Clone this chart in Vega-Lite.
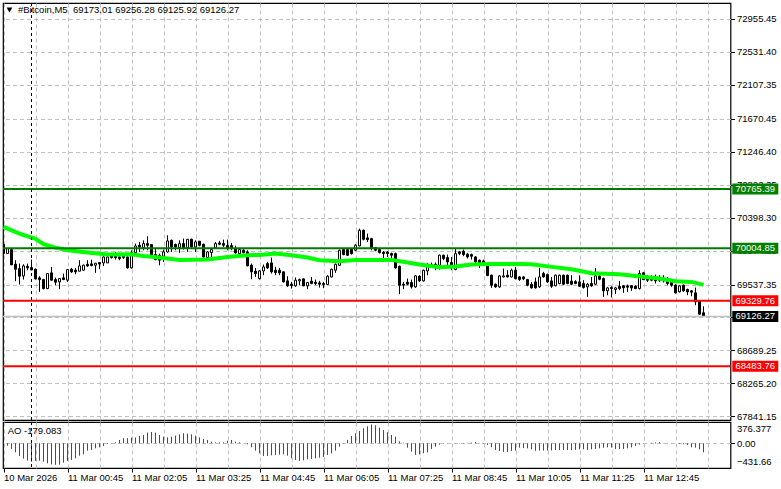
{"$schema":"https://vega.github.io/schema/vega-lite/v6.json","background":"white","padding":{"left":2,"top":2,"right":0,"bottom":0},"spacing":2,"bounds":"flush","config":{"view":{"stroke":"black","strokeWidth":1.2},"axis":{"labelFont":"Liberation Sans","labelFontSize":9.5,"labelColor":"black","tickColor":"black","domain":false,"labelOverlap":false},"text":{"font":"Liberation Sans","fontSize":9.5}},
"datasets":{
"candles":[
{"t":"2026-03-10T23:25Z","o":70055,"h":70055,"l":69935,"c":69935},
{"t":"2026-03-10T23:30Z","o":69935,"h":70000,"l":69935,"c":70000},
{"t":"2026-03-10T23:35Z","o":69987,"h":69987,"l":69790,"c":69790},
{"t":"2026-03-10T23:40Z","o":69798,"h":69850,"l":69580,"c":69734},
{"t":"2026-03-10T23:45Z","o":69742,"h":69807,"l":69537,"c":69644},
{"t":"2026-03-10T23:50Z","o":69648,"h":69798,"l":69601,"c":69777},
{"t":"2026-03-10T23:55Z","o":69772,"h":69807,"l":69721,"c":69751},
{"t":"2026-03-11T00:00Z","o":69755,"h":69858,"l":69721,"c":69725},
{"t":"2026-03-11T00:05Z","o":69734,"h":69742,"l":69601,"c":69610},
{"t":"2026-03-11T00:10Z","o":69623,"h":69644,"l":69443,"c":69601},
{"t":"2026-03-11T00:15Z","o":69601,"h":69610,"l":69473,"c":69485},
{"t":"2026-03-11T00:20Z","o":69485,"h":69678,"l":69477,"c":69678},
{"t":"2026-03-11T00:25Z","o":69687,"h":69764,"l":69584,"c":69593},
{"t":"2026-03-11T00:30Z","o":69601,"h":69627,"l":69528,"c":69567},
{"t":"2026-03-11T00:35Z","o":69571,"h":69618,"l":69477,"c":69614},
{"t":"2026-03-11T00:40Z","o":69623,"h":69678,"l":69593,"c":69601},
{"t":"2026-03-11T00:45Z","o":69593,"h":69730,"l":69571,"c":69730},
{"t":"2026-03-11T00:50Z","o":69734,"h":69751,"l":69687,"c":69700},
{"t":"2026-03-11T00:55Z","o":69721,"h":69751,"l":69670,"c":69700},
{"t":"2026-03-11T01:00Z","o":69708,"h":69850,"l":69708,"c":69777},
{"t":"2026-03-11T01:05Z","o":69721,"h":69794,"l":69717,"c":69785},
{"t":"2026-03-11T01:10Z","o":69798,"h":69850,"l":69764,"c":69777},
{"t":"2026-03-11T01:15Z","o":69802,"h":69858,"l":69772,"c":69781},
{"t":"2026-03-11T01:20Z","o":69785,"h":69815,"l":69687,"c":69811},
{"t":"2026-03-11T01:25Z","o":69820,"h":69824,"l":69734,"c":69802},
{"t":"2026-03-11T01:30Z","o":69815,"h":69901,"l":69777,"c":69892},
{"t":"2026-03-11T01:35Z","o":69815,"h":69901,"l":69815,"c":69892},
{"t":"2026-03-11T01:40Z","o":69905,"h":69944,"l":69871,"c":69884},
{"t":"2026-03-11T01:45Z","o":69901,"h":69957,"l":69858,"c":69884},
{"t":"2026-03-11T01:50Z","o":69892,"h":69944,"l":69850,"c":69871},
{"t":"2026-03-11T01:55Z","o":69884,"h":69918,"l":69867,"c":69901},
{"t":"2026-03-11T02:00Z","o":69892,"h":69901,"l":69742,"c":69751},
{"t":"2026-03-11T02:05Z","o":69751,"h":69978,"l":69742,"c":69952},
{"t":"2026-03-11T02:10Z","o":69948,"h":70064,"l":69935,"c":70034},
{"t":"2026-03-11T02:15Z","o":70042,"h":70085,"l":69957,"c":70021},
{"t":"2026-03-11T02:20Z","o":70012,"h":70106,"l":69978,"c":70064},
{"t":"2026-03-11T02:25Z","o":70064,"h":70158,"l":69978,"c":70042},
{"t":"2026-03-11T02:30Z","o":70051,"h":70051,"l":69892,"c":69914},
{"t":"2026-03-11T02:35Z","o":69922,"h":70000,"l":69850,"c":69858},
{"t":"2026-03-11T02:40Z","o":69914,"h":69935,"l":69785,"c":69850},
{"t":"2026-03-11T02:45Z","o":69901,"h":69987,"l":69828,"c":69957},
{"t":"2026-03-11T02:50Z","o":69957,"h":70171,"l":69948,"c":70098},
{"t":"2026-03-11T02:55Z","o":70106,"h":70115,"l":69957,"c":70021},
{"t":"2026-03-11T03:00Z","o":70051,"h":70064,"l":69978,"c":70021},
{"t":"2026-03-11T03:05Z","o":70012,"h":70106,"l":69944,"c":70064},
{"t":"2026-03-11T03:10Z","o":70064,"h":70128,"l":69987,"c":70012},
{"t":"2026-03-11T03:15Z","o":70012,"h":70124,"l":69957,"c":70119},
{"t":"2026-03-11T03:20Z","o":70119,"h":70128,"l":70012,"c":70021},
{"t":"2026-03-11T03:25Z","o":70021,"h":70106,"l":69957,"c":70085},
{"t":"2026-03-11T03:30Z","o":70094,"h":70098,"l":70029,"c":70042},
{"t":"2026-03-11T03:35Z","o":70055,"h":70064,"l":69884,"c":69892},
{"t":"2026-03-11T03:40Z","o":69884,"h":69969,"l":69875,"c":69957},
{"t":"2026-03-11T03:45Z","o":69948,"h":70000,"l":69892,"c":69987},
{"t":"2026-03-11T03:50Z","o":70012,"h":70085,"l":70000,"c":70064},
{"t":"2026-03-11T03:55Z","o":70072,"h":70098,"l":70042,"c":70055},
{"t":"2026-03-11T04:00Z","o":70064,"h":70115,"l":70021,"c":70042},
{"t":"2026-03-11T04:05Z","o":70038,"h":70115,"l":69978,"c":70012},
{"t":"2026-03-11T04:10Z","o":70038,"h":70072,"l":69978,"c":70000},
{"t":"2026-03-11T04:15Z","o":70000,"h":70038,"l":69935,"c":69944},
{"t":"2026-03-11T04:20Z","o":69935,"h":70000,"l":69922,"c":69987},
{"t":"2026-03-11T04:25Z","o":69978,"h":69991,"l":69935,"c":69948},
{"t":"2026-03-11T04:30Z","o":69957,"h":69978,"l":69772,"c":69777},
{"t":"2026-03-11T04:35Z","o":69785,"h":69807,"l":69605,"c":69700},
{"t":"2026-03-11T04:40Z","o":69708,"h":69751,"l":69635,"c":69678},
{"t":"2026-03-11T04:45Z","o":69614,"h":69721,"l":69601,"c":69712},
{"t":"2026-03-11T04:50Z","o":69712,"h":69794,"l":69657,"c":69764},
{"t":"2026-03-11T04:55Z","o":69807,"h":69828,"l":69738,"c":69751},
{"t":"2026-03-11T05:00Z","o":69815,"h":69884,"l":69678,"c":69700},
{"t":"2026-03-11T05:05Z","o":69721,"h":69764,"l":69657,"c":69691},
{"t":"2026-03-11T05:10Z","o":69721,"h":69751,"l":69657,"c":69687},
{"t":"2026-03-11T05:15Z","o":69700,"h":69708,"l":69563,"c":69571},
{"t":"2026-03-11T05:20Z","o":69584,"h":69644,"l":69507,"c":69520},
{"t":"2026-03-11T05:25Z","o":69541,"h":69571,"l":69485,"c":69524},
{"t":"2026-03-11T05:30Z","o":69520,"h":69627,"l":69507,"c":69593},
{"t":"2026-03-11T05:35Z","o":69584,"h":69614,"l":69528,"c":69601},
{"t":"2026-03-11T05:40Z","o":69610,"h":69614,"l":69515,"c":69520},
{"t":"2026-03-11T05:45Z","o":69520,"h":69571,"l":69477,"c":69563},
{"t":"2026-03-11T05:50Z","o":69580,"h":69635,"l":69541,"c":69550},
{"t":"2026-03-11T05:55Z","o":69567,"h":69601,"l":69528,"c":69550},
{"t":"2026-03-11T06:00Z","o":69558,"h":69584,"l":69498,"c":69541},
{"t":"2026-03-11T06:05Z","o":69550,"h":69571,"l":69490,"c":69537},
{"t":"2026-03-11T06:10Z","o":69537,"h":69657,"l":69528,"c":69644},
{"t":"2026-03-11T06:15Z","o":69635,"h":69742,"l":69627,"c":69734},
{"t":"2026-03-11T06:20Z","o":69721,"h":69807,"l":69687,"c":69798},
{"t":"2026-03-11T06:25Z","o":69785,"h":69987,"l":69777,"c":69978},
{"t":"2026-03-11T06:30Z","o":69987,"h":70000,"l":69914,"c":69922},
{"t":"2026-03-11T06:35Z","o":69987,"h":70000,"l":69905,"c":69914},
{"t":"2026-03-11T06:40Z","o":69991,"h":70000,"l":69922,"c":69935},
{"t":"2026-03-11T06:45Z","o":69978,"h":70055,"l":69965,"c":70042},
{"t":"2026-03-11T06:50Z","o":70034,"h":70256,"l":70029,"c":70235},
{"t":"2026-03-11T06:55Z","o":70235,"h":70244,"l":70106,"c":70119},
{"t":"2026-03-11T07:00Z","o":70137,"h":70192,"l":70085,"c":70115},
{"t":"2026-03-11T07:05Z","o":70128,"h":70137,"l":69978,"c":70000},
{"t":"2026-03-11T07:10Z","o":70012,"h":70021,"l":69965,"c":69978},
{"t":"2026-03-11T07:15Z","o":69987,"h":70000,"l":69935,"c":69948},
{"t":"2026-03-11T07:20Z","o":69952,"h":69969,"l":69871,"c":69935},
{"t":"2026-03-11T07:25Z","o":69952,"h":69969,"l":69892,"c":69935},
{"t":"2026-03-11T07:30Z","o":69935,"h":69948,"l":69871,"c":69914},
{"t":"2026-03-11T07:35Z","o":69935,"h":69948,"l":69742,"c":69751},
{"t":"2026-03-11T07:40Z","o":69772,"h":69781,"l":69413,"c":69528},
{"t":"2026-03-11T07:45Z","o":69541,"h":69571,"l":69477,"c":69528},
{"t":"2026-03-11T07:50Z","o":69567,"h":69614,"l":69528,"c":69541},
{"t":"2026-03-11T07:55Z","o":69563,"h":69601,"l":69485,"c":69507},
{"t":"2026-03-11T08:00Z","o":69507,"h":69657,"l":69494,"c":69648},
{"t":"2026-03-11T08:05Z","o":69644,"h":69657,"l":69571,"c":69584},
{"t":"2026-03-11T08:10Z","o":69584,"h":69730,"l":69575,"c":69721},
{"t":"2026-03-11T08:15Z","o":69712,"h":69815,"l":69657,"c":69785},
{"t":"2026-03-11T08:20Z","o":69777,"h":69820,"l":69764,"c":69794},
{"t":"2026-03-11T08:25Z","o":69798,"h":69820,"l":69721,"c":69772},
{"t":"2026-03-11T08:30Z","o":69785,"h":69922,"l":69730,"c":69914},
{"t":"2026-03-11T08:35Z","o":69914,"h":69922,"l":69850,"c":69871},
{"t":"2026-03-11T08:40Z","o":69884,"h":69922,"l":69764,"c":69828},
{"t":"2026-03-11T08:45Z","o":69820,"h":69892,"l":69721,"c":69785},
{"t":"2026-03-11T08:50Z","o":69730,"h":70000,"l":69721,"c":69935},
{"t":"2026-03-11T08:55Z","o":69957,"h":69969,"l":69914,"c":69935},
{"t":"2026-03-11T09:00Z","o":69965,"h":69987,"l":69901,"c":69922},
{"t":"2026-03-11T09:05Z","o":69927,"h":69944,"l":69871,"c":69892},
{"t":"2026-03-11T09:10Z","o":69922,"h":69935,"l":69858,"c":69901},
{"t":"2026-03-11T09:15Z","o":69892,"h":69901,"l":69815,"c":69828},
{"t":"2026-03-11T09:20Z","o":69850,"h":69858,"l":69751,"c":69815},
{"t":"2026-03-11T09:25Z","o":69841,"h":69858,"l":69807,"c":69820},
{"t":"2026-03-11T09:30Z","o":69777,"h":69785,"l":69644,"c":69653},
{"t":"2026-03-11T09:35Z","o":69657,"h":69665,"l":69494,"c":69528},
{"t":"2026-03-11T09:40Z","o":69541,"h":69550,"l":69494,"c":69507},
{"t":"2026-03-11T09:45Z","o":69507,"h":69657,"l":69494,"c":69648},
{"t":"2026-03-11T09:50Z","o":69635,"h":69742,"l":69627,"c":69648},
{"t":"2026-03-11T09:55Z","o":69657,"h":69721,"l":69627,"c":69635},
{"t":"2026-03-11T10:00Z","o":69635,"h":69742,"l":69627,"c":69721},
{"t":"2026-03-11T10:05Z","o":69721,"h":69764,"l":69601,"c":69614},
{"t":"2026-03-11T10:10Z","o":69635,"h":69644,"l":69584,"c":69601},
{"t":"2026-03-11T10:15Z","o":69635,"h":69644,"l":69593,"c":69610},
{"t":"2026-03-11T10:20Z","o":69601,"h":69610,"l":69515,"c":69528},
{"t":"2026-03-11T10:25Z","o":69541,"h":69571,"l":69485,"c":69494},
{"t":"2026-03-11T10:30Z","o":69571,"h":69627,"l":69485,"c":69494},
{"t":"2026-03-11T10:35Z","o":69507,"h":69751,"l":69494,"c":69635},
{"t":"2026-03-11T10:40Z","o":69678,"h":69700,"l":69627,"c":69635},
{"t":"2026-03-11T10:45Z","o":69665,"h":69678,"l":69558,"c":69571},
{"t":"2026-03-11T10:50Z","o":69584,"h":69635,"l":69494,"c":69515},
{"t":"2026-03-11T10:55Z","o":69520,"h":69665,"l":69515,"c":69657},
{"t":"2026-03-11T11:00Z","o":69550,"h":69665,"l":69541,"c":69657},
{"t":"2026-03-11T11:05Z","o":69657,"h":69665,"l":69528,"c":69541},
{"t":"2026-03-11T11:10Z","o":69657,"h":69665,"l":69541,"c":69550},
{"t":"2026-03-11T11:15Z","o":69580,"h":69657,"l":69528,"c":69541},
{"t":"2026-03-11T11:20Z","o":69575,"h":69593,"l":69541,"c":69550},
{"t":"2026-03-11T11:25Z","o":69571,"h":69657,"l":69507,"c":69515},
{"t":"2026-03-11T11:30Z","o":69550,"h":69593,"l":69485,"c":69498},
{"t":"2026-03-11T11:35Z","o":69507,"h":69558,"l":69378,"c":69541},
{"t":"2026-03-11T11:40Z","o":69550,"h":69635,"l":69507,"c":69520},
{"t":"2026-03-11T11:45Z","o":69541,"h":69751,"l":69533,"c":69648},
{"t":"2026-03-11T11:50Z","o":69644,"h":69657,"l":69593,"c":69605},
{"t":"2026-03-11T11:55Z","o":69614,"h":69627,"l":69378,"c":69456},
{"t":"2026-03-11T12:00Z","o":69456,"h":69507,"l":69400,"c":69494},
{"t":"2026-03-11T12:05Z","o":69498,"h":69515,"l":69370,"c":69485},
{"t":"2026-03-11T12:10Z","o":69473,"h":69507,"l":69413,"c":69494},
{"t":"2026-03-11T12:15Z","o":69515,"h":69584,"l":69464,"c":69485},
{"t":"2026-03-11T12:20Z","o":69520,"h":69528,"l":69430,"c":69494},
{"t":"2026-03-11T12:25Z","o":69520,"h":69537,"l":69443,"c":69503},
{"t":"2026-03-11T12:30Z","o":69520,"h":69528,"l":69456,"c":69494},
{"t":"2026-03-11T12:35Z","o":69515,"h":69528,"l":69477,"c":69485},
{"t":"2026-03-11T12:40Z","o":69485,"h":69721,"l":69473,"c":69678},
{"t":"2026-03-11T12:45Z","o":69687,"h":69700,"l":69593,"c":69601},
{"t":"2026-03-11T12:50Z","o":69610,"h":69657,"l":69571,"c":69593},
{"t":"2026-03-11T12:55Z","o":69610,"h":69657,"l":69580,"c":69593},
{"t":"2026-03-11T13:00Z","o":69601,"h":69665,"l":69550,"c":69584},
{"t":"2026-03-11T13:05Z","o":69614,"h":69657,"l":69571,"c":69593},
{"t":"2026-03-11T13:10Z","o":69601,"h":69657,"l":69563,"c":69584},
{"t":"2026-03-11T13:15Z","o":69593,"h":69635,"l":69528,"c":69550},
{"t":"2026-03-11T13:20Z","o":69563,"h":69601,"l":69507,"c":69528},
{"t":"2026-03-11T13:25Z","o":69528,"h":69541,"l":69421,"c":69430},
{"t":"2026-03-11T13:30Z","o":69443,"h":69528,"l":69434,"c":69520},
{"t":"2026-03-11T13:35Z","o":69528,"h":69537,"l":69443,"c":69456},
{"t":"2026-03-11T13:40Z","o":69473,"h":69485,"l":69400,"c":69443},
{"t":"2026-03-11T13:45Z","o":69456,"h":69464,"l":69387,"c":69438},
{"t":"2026-03-11T13:50Z","o":69430,"h":69498,"l":69271,"c":69314},
{"t":"2026-03-11T13:55Z","o":69323,"h":69331,"l":69143,"c":69156},
{"t":"2026-03-11T14:00Z","o":69173.01,"h":69256.28,"l":69125.92,"c":69126.27}
],
"ma":[
{"t":"2026-03-10T23:25Z","v":70278},{"t":"2026-03-10T23:45Z","v":70192},{"t":"2026-03-11T00:05Z","v":70124},{"t":"2026-03-11T00:15Z","v":70055},{"t":"2026-03-11T00:30Z","v":70012},{"t":"2026-03-11T00:45Z","v":69978},{"t":"2026-03-11T01:10Z","v":69948},{"t":"2026-03-11T01:35Z","v":69922},{"t":"2026-03-11T02:05Z","v":69927},{"t":"2026-03-11T02:20Z","v":69905},{"t":"2026-03-11T02:40Z","v":69884},{"t":"2026-03-11T03:05Z","v":69854},{"t":"2026-03-11T03:40Z","v":69858},{"t":"2026-03-11T04:05Z","v":69892},{"t":"2026-03-11T04:30Z","v":69914},{"t":"2026-03-11T04:45Z","v":69918},{"t":"2026-03-11T05:05Z","v":69935},{"t":"2026-03-11T05:25Z","v":69914},{"t":"2026-03-11T05:45Z","v":69884},{"t":"2026-03-11T06:00Z","v":69850},{"t":"2026-03-11T06:25Z","v":69837},{"t":"2026-03-11T06:45Z","v":69854},{"t":"2026-03-11T07:30Z","v":69854},{"t":"2026-03-11T07:50Z","v":69820},{"t":"2026-03-11T08:05Z","v":69794},{"t":"2026-03-11T08:30Z","v":69760},{"t":"2026-03-11T08:50Z","v":69768},{"t":"2026-03-11T09:10Z","v":69794},{"t":"2026-03-11T09:35Z","v":69802},{"t":"2026-03-11T10:10Z","v":69802},{"t":"2026-03-11T10:25Z","v":69798},{"t":"2026-03-11T10:50Z","v":69764},{"t":"2026-03-11T11:15Z","v":69734},{"t":"2026-03-11T11:40Z","v":69682},{"t":"2026-03-11T12:15Z","v":69670},{"t":"2026-03-11T12:35Z","v":69648},{"t":"2026-03-11T13:05Z","v":69614},{"t":"2026-03-11T13:25Z","v":69580},{"t":"2026-03-11T13:45Z","v":69571},{"t":"2026-03-11T14:00Z","v":69533}
],
"levels":[{"price":70765.39,"kind":"buy"},{"price":70004.85,"kind":"buy"},{"price":69329.76,"kind":"sell"},{"price":68483.76,"kind":"sell"},{"price":69126.27,"kind":"last"}],
"ao":[
{"t":"2026-03-10T23:25Z","ao":-7,"dir":"down"},{"t":"2026-03-10T23:30Z","ao":-47,"dir":"down"},{"t":"2026-03-10T23:35Z","ao":-113,"dir":"down"},{"t":"2026-03-10T23:40Z","ao":-180,"dir":"down"},{"t":"2026-03-10T23:45Z","ao":-253,"dir":"down"},{"t":"2026-03-10T23:50Z","ao":-307,"dir":"down"},{"t":"2026-03-10T23:55Z","ao":-347,"dir":"down"},{"t":"2026-03-11T00:00Z","ao":-367,"dir":"down"},{"t":"2026-03-11T00:05Z","ao":-353,"dir":"up"},{"t":"2026-03-11T00:10Z","ao":-347,"dir":"up"},{"t":"2026-03-11T00:15Z","ao":-367,"dir":"down"},{"t":"2026-03-11T00:20Z","ao":-400,"dir":"down"},{"t":"2026-03-11T00:25Z","ao":-420,"dir":"down"},{"t":"2026-03-11T00:30Z","ao":-431,"dir":"down"},{"t":"2026-03-11T00:35Z","ao":-428,"dir":"up"},{"t":"2026-03-11T00:40Z","ao":-387,"dir":"up"},{"t":"2026-03-11T00:45Z","ao":-353,"dir":"up"},{"t":"2026-03-11T00:50Z","ao":-333,"dir":"up"},{"t":"2026-03-11T00:55Z","ao":-300,"dir":"up"},{"t":"2026-03-11T01:00Z","ao":-247,"dir":"up"},{"t":"2026-03-11T01:05Z","ao":-220,"dir":"up"},{"t":"2026-03-11T01:10Z","ao":-147,"dir":"up"},{"t":"2026-03-11T01:15Z","ao":-133,"dir":"up"},{"t":"2026-03-11T01:20Z","ao":-100,"dir":"up"},{"t":"2026-03-11T01:25Z","ao":-80,"dir":"up"},{"t":"2026-03-11T01:30Z","ao":-53,"dir":"up"},{"t":"2026-03-11T01:35Z","ao":-13,"dir":"up"},{"t":"2026-03-11T01:40Z","ao":5,"dir":"up"},{"t":"2026-03-11T01:45Z","ao":20,"dir":"up"},{"t":"2026-03-11T01:50Z","ao":67,"dir":"up"},{"t":"2026-03-11T01:55Z","ao":100,"dir":"up"},{"t":"2026-03-11T02:00Z","ao":103,"dir":"up"},{"t":"2026-03-11T02:05Z","ao":113,"dir":"up"},{"t":"2026-03-11T02:10Z","ao":115,"dir":"up"},{"t":"2026-03-11T02:15Z","ao":147,"dir":"up"},{"t":"2026-03-11T02:20Z","ao":167,"dir":"up"},{"t":"2026-03-11T02:25Z","ao":213,"dir":"up"},{"t":"2026-03-11T02:30Z","ao":227,"dir":"up"},{"t":"2026-03-11T02:35Z","ao":213,"dir":"down"},{"t":"2026-03-11T02:40Z","ao":167,"dir":"down"},{"t":"2026-03-11T02:45Z","ao":133,"dir":"down"},{"t":"2026-03-11T02:50Z","ao":120,"dir":"down"},{"t":"2026-03-11T02:55Z","ao":133,"dir":"up"},{"t":"2026-03-11T03:00Z","ao":153,"dir":"up"},{"t":"2026-03-11T03:05Z","ao":180,"dir":"up"},{"t":"2026-03-11T03:10Z","ao":200,"dir":"up"},{"t":"2026-03-11T03:15Z","ao":193,"dir":"down"},{"t":"2026-03-11T03:20Z","ao":180,"dir":"down"},{"t":"2026-03-11T03:25Z","ao":153,"dir":"down"},{"t":"2026-03-11T03:30Z","ao":120,"dir":"down"},{"t":"2026-03-11T03:35Z","ao":87,"dir":"down"},{"t":"2026-03-11T03:40Z","ao":67,"dir":"down"},{"t":"2026-03-11T03:45Z","ao":33,"dir":"down"},{"t":"2026-03-11T03:50Z","ao":20,"dir":"down"},{"t":"2026-03-11T03:55Z","ao":18,"dir":"down"},{"t":"2026-03-11T04:00Z","ao":17,"dir":"down"},{"t":"2026-03-11T04:05Z","ao":53,"dir":"up"},{"t":"2026-03-11T04:10Z","ao":67,"dir":"up"},{"t":"2026-03-11T04:15Z","ao":33,"dir":"down"},{"t":"2026-03-11T04:20Z","ao":20,"dir":"down"},{"t":"2026-03-11T04:25Z","ao":3,"dir":"down"},{"t":"2026-03-11T04:30Z","ao":-20,"dir":"down"},{"t":"2026-03-11T04:35Z","ao":-80,"dir":"down"},{"t":"2026-03-11T04:40Z","ao":-147,"dir":"down"},{"t":"2026-03-11T04:45Z","ao":-200,"dir":"down"},{"t":"2026-03-11T04:50Z","ao":-253,"dir":"down"},{"t":"2026-03-11T04:55Z","ao":-255,"dir":"down"},{"t":"2026-03-11T05:00Z","ao":-240,"dir":"up"},{"t":"2026-03-11T05:05Z","ao":-233,"dir":"up"},{"t":"2026-03-11T05:10Z","ao":-227,"dir":"up"},{"t":"2026-03-11T05:15Z","ao":-220,"dir":"up"},{"t":"2026-03-11T05:20Z","ao":-247,"dir":"down"},{"t":"2026-03-11T05:25Z","ao":-300,"dir":"down"},{"t":"2026-03-11T05:30Z","ao":-333,"dir":"down"},{"t":"2026-03-11T05:35Z","ao":-353,"dir":"down"},{"t":"2026-03-11T05:40Z","ao":-340,"dir":"up"},{"t":"2026-03-11T05:45Z","ao":-320,"dir":"up"},{"t":"2026-03-11T05:50Z","ao":-313,"dir":"up"},{"t":"2026-03-11T05:55Z","ao":-300,"dir":"up"},{"t":"2026-03-11T06:00Z","ao":-287,"dir":"up"},{"t":"2026-03-11T06:05Z","ao":-273,"dir":"up"},{"t":"2026-03-11T06:10Z","ao":-233,"dir":"up"},{"t":"2026-03-11T06:15Z","ao":-200,"dir":"up"},{"t":"2026-03-11T06:20Z","ao":-147,"dir":"up"},{"t":"2026-03-11T06:25Z","ao":-67,"dir":"up"},{"t":"2026-03-11T06:30Z","ao":-5,"dir":"up"},{"t":"2026-03-11T06:35Z","ao":67,"dir":"up"},{"t":"2026-03-11T06:40Z","ao":147,"dir":"up"},{"t":"2026-03-11T06:45Z","ao":200,"dir":"up"},{"t":"2026-03-11T06:50Z","ao":247,"dir":"up"},{"t":"2026-03-11T06:55Z","ao":300,"dir":"up"},{"t":"2026-03-11T07:00Z","ao":340,"dir":"up"},{"t":"2026-03-11T07:05Z","ao":376.377,"dir":"up"},{"t":"2026-03-11T07:10Z","ao":360,"dir":"down"},{"t":"2026-03-11T07:15Z","ao":313,"dir":"down"},{"t":"2026-03-11T07:20Z","ao":267,"dir":"down"},{"t":"2026-03-11T07:25Z","ao":220,"dir":"down"},{"t":"2026-03-11T07:30Z","ao":167,"dir":"down"},{"t":"2026-03-11T07:35Z","ao":133,"dir":"down"},{"t":"2026-03-11T07:40Z","ao":40,"dir":"down"},{"t":"2026-03-11T07:45Z","ao":13,"dir":"down"},{"t":"2026-03-11T07:50Z","ao":-87,"dir":"down"},{"t":"2026-03-11T07:55Z","ao":-167,"dir":"down"},{"t":"2026-03-11T08:00Z","ao":-233,"dir":"down"},{"t":"2026-03-11T08:05Z","ao":-220,"dir":"up"},{"t":"2026-03-11T08:10Z","ao":-200,"dir":"up"},{"t":"2026-03-11T08:15Z","ao":-180,"dir":"up"},{"t":"2026-03-11T08:20Z","ao":-113,"dir":"up"},{"t":"2026-03-11T08:25Z","ao":-67,"dir":"up"},{"t":"2026-03-11T08:30Z","ao":-27,"dir":"up"},{"t":"2026-03-11T08:35Z","ao":-5,"dir":"up"},{"t":"2026-03-11T08:40Z","ao":-3,"dir":"up"},{"t":"2026-03-11T08:45Z","ao":-2,"dir":"up"},{"t":"2026-03-11T08:50Z","ao":5,"dir":"up"},{"t":"2026-03-11T08:55Z","ao":7,"dir":"up"},{"t":"2026-03-11T09:00Z","ao":8,"dir":"up"},{"t":"2026-03-11T09:05Z","ao":6,"dir":"down"},{"t":"2026-03-11T09:10Z","ao":13,"dir":"up"},{"t":"2026-03-11T09:15Z","ao":27,"dir":"up"},{"t":"2026-03-11T09:20Z","ao":5,"dir":"down"},{"t":"2026-03-11T09:25Z","ao":-7,"dir":"down"},{"t":"2026-03-11T09:30Z","ao":-33,"dir":"down"},{"t":"2026-03-11T09:35Z","ao":-80,"dir":"down"},{"t":"2026-03-11T09:40Z","ao":-133,"dir":"down"},{"t":"2026-03-11T09:45Z","ao":-153,"dir":"down"},{"t":"2026-03-11T09:50Z","ao":-173,"dir":"down"},{"t":"2026-03-11T09:55Z","ao":-175,"dir":"down"},{"t":"2026-03-11T10:00Z","ao":-153,"dir":"up"},{"t":"2026-03-11T10:05Z","ao":-147,"dir":"up"},{"t":"2026-03-11T10:10Z","ao":-87,"dir":"up"},{"t":"2026-03-11T10:15Z","ao":-95,"dir":"down"},{"t":"2026-03-11T10:20Z","ao":-100,"dir":"down"},{"t":"2026-03-11T10:25Z","ao":-120,"dir":"down"},{"t":"2026-03-11T10:30Z","ao":-150,"dir":"down"},{"t":"2026-03-11T10:35Z","ao":-147,"dir":"up"},{"t":"2026-03-11T10:40Z","ao":-145,"dir":"up"},{"t":"2026-03-11T10:45Z","ao":-145,"dir":"up"},{"t":"2026-03-11T10:50Z","ao":-140,"dir":"up"},{"t":"2026-03-11T10:55Z","ao":-133,"dir":"up"},{"t":"2026-03-11T11:00Z","ao":-134,"dir":"down"},{"t":"2026-03-11T11:05Z","ao":-135,"dir":"down"},{"t":"2026-03-11T11:10Z","ao":-136,"dir":"down"},{"t":"2026-03-11T11:15Z","ao":-137,"dir":"down"},{"t":"2026-03-11T11:20Z","ao":-130,"dir":"up"},{"t":"2026-03-11T11:25Z","ao":-120,"dir":"up"},{"t":"2026-03-11T11:30Z","ao":-120,"dir":"up"},{"t":"2026-03-11T11:35Z","ao":-133,"dir":"down"},{"t":"2026-03-11T11:40Z","ao":-120,"dir":"up"},{"t":"2026-03-11T11:45Z","ao":-113,"dir":"up"},{"t":"2026-03-11T11:50Z","ao":-100,"dir":"up"},{"t":"2026-03-11T11:55Z","ao":-87,"dir":"up"},{"t":"2026-03-11T12:00Z","ao":-80,"dir":"up"},{"t":"2026-03-11T12:05Z","ao":-87,"dir":"down"},{"t":"2026-03-11T12:10Z","ao":-113,"dir":"down"},{"t":"2026-03-11T12:15Z","ao":-115,"dir":"down"},{"t":"2026-03-11T12:20Z","ao":-113,"dir":"up"},{"t":"2026-03-11T12:25Z","ao":-100,"dir":"up"},{"t":"2026-03-11T12:30Z","ao":-80,"dir":"up"},{"t":"2026-03-11T12:35Z","ao":-53,"dir":"up"},{"t":"2026-03-11T12:40Z","ao":-27,"dir":"up"},{"t":"2026-03-11T12:45Z","ao":-5,"dir":"up"},{"t":"2026-03-11T12:50Z","ao":-3,"dir":"up"},{"t":"2026-03-11T12:55Z","ao":7,"dir":"up"},{"t":"2026-03-11T13:00Z","ao":20,"dir":"up"},{"t":"2026-03-11T13:05Z","ao":23,"dir":"down"},{"t":"2026-03-11T13:10Z","ao":8,"dir":"down"},{"t":"2026-03-11T13:15Z","ao":3,"dir":"down"},{"t":"2026-03-11T13:20Z","ao":2,"dir":"down"},{"t":"2026-03-11T13:25Z","ao":-1,"dir":"down"},{"t":"2026-03-11T13:30Z","ao":-13,"dir":"down"},{"t":"2026-03-11T13:35Z","ao":-20,"dir":"down"},{"t":"2026-03-11T13:40Z","ao":-33,"dir":"down"},{"t":"2026-03-11T13:45Z","ao":-80,"dir":"down"},{"t":"2026-03-11T13:50Z","ao":-87,"dir":"down"},{"t":"2026-03-11T13:55Z","ao":-120,"dir":"down"},{"t":"2026-03-11T14:00Z","ao":-179.083,"dir":"down"}
]
},
"vconcat":[
{"width":727.5,"height":417,"layer":[
{"data":{"name":"candles"},"mark":{"type":"rule","color":"black","strokeWidth":1,"clip":true},"encoding":{
"x":{"field":"t","type":"temporal","title":null,"scale":{"type":"utc","domain":[1773185062500,1773239625000],"padding":0},"axis":{"tickCount":100,"values":[1773185100000,1773187500000,1773189900000,1773192300000,1773194700000,1773197100000,1773199500000,1773201900000,1773204300000,1773206700000,1773209100000,1773211500000,1773213900000,1773216300000,1773218700000,1773221100000,1773223500000,1773225900000,1773228300000,1773230700000,1773233100000,1773235500000,1773237900000],"grid":true,"gridColor":"#c0c0c0","gridDash":[4,3],"labels":false,"ticks":false}},
"y":{"field":"l","type":"quantitative","title":null,"scale":{"domain":[67793.5,73160.2],"nice":false,"zero":false},"axis":{"tickCount":100,"orient":"right","values":[72955.45,72531.40,72107.35,71670.45,71246.40,70822.35,70398.30,69974.25,69537.35,69113.30,68689.25,68265.20,67841.15],"format":".2f","grid":true,"gridColor":"#c0c0c0","gridDash":[4,3],"tickSize":4,"labelPadding":2,"labelOverlap":false,"labelBound":false}},
"y2":{"field":"h"}}},
{"data":{"name":"candles"},"mark":{"type":"bar","size":2,"stroke":"black","strokeWidth":1,"clip":true},"encoding":{
"x":{"field":"t","type":"temporal","title":null,"scale":{"type":"utc","domain":[1773185062500,1773239625000],"padding":0}},
"y":{"field":"o","type":"quantitative","title":null,"scale":{"domain":[67793.5,73160.2],"nice":false,"zero":false}},
"y2":{"field":"c"},
"fill":{"condition":{"test":"datum.c>datum.o","value":"white"},"value":"black"}}},
{"data":{"name":"ma"},"mark":{"type":"line","color":"#00ff00","strokeWidth":4,"clip":true},"encoding":{
"x":{"field":"t","type":"temporal","title":null,"scale":{"type":"utc","domain":[1773185062500,1773239625000],"padding":0}},
"y":{"field":"v","type":"quantitative","title":null,"scale":{"domain":[67793.5,73160.2],"nice":false,"zero":false}}}},
{"data":{"name":"levels"},"mark":{"type":"rule","clip":true},"encoding":{
"y":{"field":"price","type":"quantitative","title":null,"scale":{"domain":[67793.5,73160.2],"nice":false,"zero":false}},
"stroke":{"field":"kind","type":"nominal","scale":{"domain":["buy","sell","last"],"range":["#007a00","#ff0000","#c0c0c0"]},"legend":null},
"strokeWidth":{"condition":{"test":"datum.kind=='last'","value":1.5},"value":2}}},
{"data":{"name":"levels"},"mark":{"type":"rect","width":46,"height":11},"encoding":{
"x":{"datum":1773241485000,"type":"temporal","title":null,"scale":{"type":"utc","domain":[1773185062500,1773239625000],"padding":0}},
"y":{"field":"price","type":"quantitative","title":null,"scale":{"domain":[67793.5,73160.2],"nice":false,"zero":false}},
"fill":{"field":"kind","type":"nominal","scale":{"domain":["buy","sell","last"],"range":["#008000","#ff0000","#000000"]},"legend":null}}},
{"data":{"name":"levels"},"mark":{"type":"text","color":"white","align":"center","baseline":"middle"},"encoding":{
"x":{"datum":1773241485000,"type":"temporal","title":null,"scale":{"type":"utc","domain":[1773185062500,1773239625000],"padding":0}},
"y":{"field":"price","type":"quantitative","title":null,"scale":{"domain":[67793.5,73160.2],"nice":false,"zero":false}},
"text":{"field":"price","type":"quantitative","format":".2f"}}},
{"data":{"values":[{"label":"#Bitcoin,M5\u00a0\u00a069173.01 69256.28 69125.92 69126.27"}]},"mark":{"type":"text","color":"black","align":"left","baseline":"middle"},"encoding":{
"x":{"datum":1773186187500,"type":"temporal","title":null,"scale":{"type":"utc","domain":[1773185062500,1773239625000],"padding":0}},
"y":{"datum":73070,"type":"quantitative","title":null,"scale":{"domain":[67793.5,73160.2],"nice":false,"zero":false}},
"text":{"field":"label"}}},
{"data":{"values":[{"symbol":"menu"}]},"mark":{"type":"point","shape":"triangle-down","filled":true,"color":"black","size":32,"opacity":1},"encoding":{
"x":{"datum":1773185550000,"type":"temporal","title":null,"scale":{"type":"utc","domain":[1773185062500,1773239625000],"padding":0}},
"y":{"datum":73070,"type":"quantitative","title":null,"scale":{"domain":[67793.5,73160.2],"nice":false,"zero":false}}}},
{"data":{"values":[{"t":"2026-03-11T00:00Z"}]},"mark":{"type":"rule","color":"black","strokeWidth":1,"strokeDash":[3,3],"clip":true},"encoding":{
"x":{"field":"t","type":"temporal","title":null,"scale":{"type":"utc","domain":[1773185062500,1773239625000],"padding":0}}}}
]},
{"width":727.5,"height":46,"layer":[
{"data":{"name":"ao"},"mark":{"type":"rule","strokeWidth":1,"clip":true},"encoding":{
"x":{"field":"t","type":"temporal","title":null,"scale":{"type":"utc","domain":[1773185062500,1773239625000]},"axis":{"tickCount":100,"values":[1773185100000,1773187500000,1773189900000,1773192300000,1773194700000,1773197100000,1773199500000,1773201900000,1773204300000,1773206700000,1773209100000,1773211500000,1773213900000,1773216300000,1773218700000,1773221100000,1773223500000,1773225900000,1773228300000,1773230700000,1773233100000,1773235500000,1773237900000],"grid":true,"gridColor":"#c0c0c0","gridDash":[4,3],"tickSize":4,"tickOpacity":{"condition":{"test":"(+datum.value-1773185100000)%4800000==0 && +datum.value<1773235000000","value":1},"value":0},"labelExpr":"(+datum.value-1773185100000)%4800000==0 && +datum.value<1773235000000 ? (+datum.value==1773185100000 ? '10 Mar 2026' : utcFormat(datum.value,'%d %b %H:%M')) : ''","labelAlign":"left","labelBaseline":"top","labelPadding":0,"labelOverlap":false,"labelFlush":false,"labelBound":false}},
"y":{"field":"ao","type":"quantitative","title":null,"scale":{"domain":[-494,426],"nice":false,"zero":false},"axis":{"tickCount":100,"orient":"right","values":[376.377,0,-431.66],"labelExpr":"datum.value==376.377?'376.377':format(datum.value,'.2f')","tickSize":4,"tickOpacity":{"condition":{"test":"datum.value==0","value":1},"value":0},"grid":true,"gridColor":"#c0c0c0","gridDash":[4,3],"gridOpacity":{"condition":{"test":"datum.value==0","value":1},"value":0},"labelOffset":{"condition":[{"test":"datum.value>1","value":3.8},{"test":"datum.value<-1","value":-3}],"value":0},"labelPadding":2,"labelOverlap":false,"labelBound":false}},
"y2":{"datum":0},
"color":{"condition":{"test":"datum.dir=='up'","value":"#008000"},"value":"#ff0000"}}},
{"data":{"values":[{"t":"2026-03-11T00:00Z"}]},"mark":{"type":"rule","color":"black","strokeWidth":1,"strokeDash":[3,3],"clip":true},"encoding":{
"x":{"field":"t","type":"temporal","title":null,"scale":{"type":"utc","domain":[1773185062500,1773239625000]}}}},
{"data":{"values":[{"label":"AO -179.083"}]},"mark":{"type":"text","color":"black","align":"left","baseline":"middle"},"encoding":{
"x":{"datum":1773185415000,"type":"temporal","title":null,"scale":{"type":"utc","domain":[1773185062500,1773239625000]}},
"y":{"datum":252,"type":"quantitative","title":null,"scale":{"domain":[-494,426],"nice":false,"zero":false}},
"text":{"field":"label"}}}
]}
]}
